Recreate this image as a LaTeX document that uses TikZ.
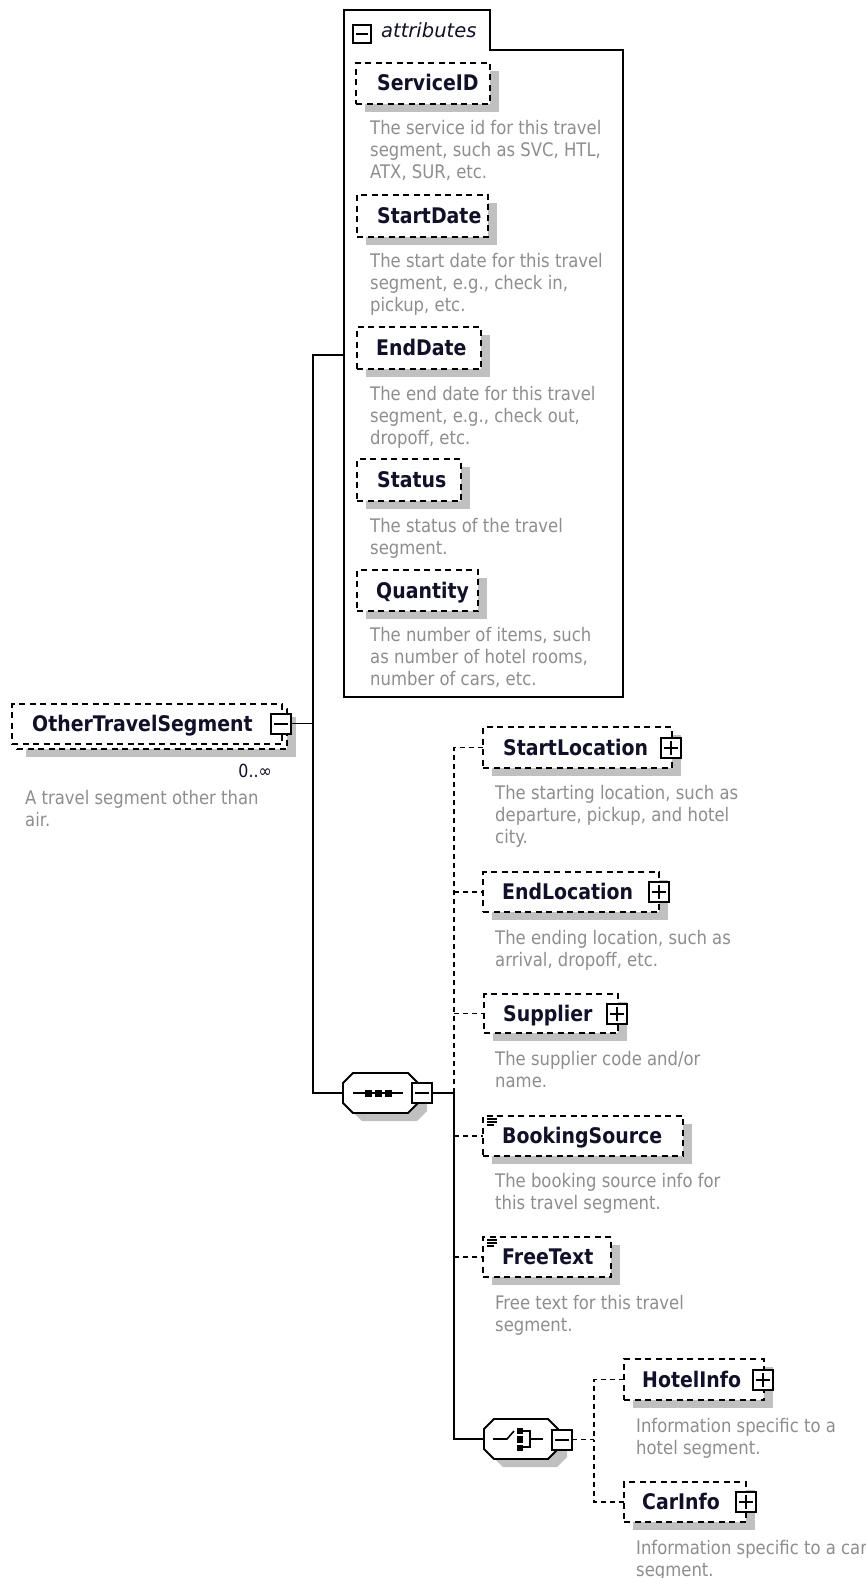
\documentclass[tikz,border=0pt]{standalone}
\usepackage{fontspec}
\setmainfont{DejaVu Sans}
\newfontfamily\nf{DejaVu Sans}[FakeStretch=0.88]
\usetikzlibrary{calc,fit}
\definecolor{shadowc}{HTML}{C0C0C0}
\definecolor{titlec}{HTML}{101028}
\definecolor{descc}{HTML}{8E8E8E}
\tikzset{
  conn/.style={line width=1.9pt},
  dconn/.style={line width=1.9pt, dash pattern=on 5pt off 4pt},
  dashbox/.style={draw, line width=1.9pt, dash pattern=on 6pt off 4.5pt, fill=white, inner sep=0pt, outer sep=0pt},
  pmbox/.style={draw, line width=2pt, fill=white, minimum size=20pt, inner sep=0pt, outer sep=0pt},
  sign/.style={line width=2pt},
  octline/.style={line width=1.9pt},
  ttl/.style={font=\nf\bfseries\fontsize{21.5}{25}\selectfont, text=titlec, inner sep=0pt, anchor=base west},
  dsc/.style={font=\nf\fontsize{18.7}{22}\selectfont, text=descc, inner sep=0pt, anchor=base west},
}
\newcommand\dlines[1]{\begin{tabular}[t]{@{}l@{}}#1\end{tabular}}
\newcommand\mybox[7]{%
  \fill[shadowc] (#2+9,#3+8) rectangle (#4+9,#5+8);
  \node[dashbox, anchor=north west, minimum width=#4-#2, minimum height=#5-#3] (#1) at (#2,#3) {};
  \node[ttl] (#1t) at (#7,{(#3+#5)/2+7.5}) {#6};
}
\newcommand\mydesc[4]{\node[dsc] (#1) at (#2,#3) {\dlines{#4}};}
\newcommand\myplus[3]{%
  \node[pmbox] (#1) at (#2,#3) {};
  \draw[sign] ($(#1.center)+(-7,0)$) -- ($(#1.center)+(7,0)$) ($(#1.center)+(0,-7)$) -- ($(#1.center)+(0,7)$);
}
\newcommand\myminus[3]{%
  \node[pmbox] (#1) at (#2,#3) {};
  \draw[sign] ($(#1.center)+(-7,0)$) -- ($(#1.center)+(7,0)$);
}
\newcommand\myocta[5]{%
  \fill[shadowc] (#2+9,#3+18) -- (#2+19,#3+8) -- (#4-1,#3+8) -- (#4+9,#3+18) -- (#4+9,#5-2) -- (#4-1,#5+8) -- (#2+19,#5+8) -- (#2+9,#5-2) -- cycle;
  \path (#2,#3) coordinate (#1nw) (#4,#5) coordinate (#1se);
  \node[inner sep=0pt, outer sep=0pt, fit=(#1nw)(#1se)] (#1) {};
  \draw[octline, fill=white] (#2,#3+10) -- (#2+10,#3) -- (#4-10,#3) -- (#4,#3+10) -- (#4,#5-10) -- (#4-10,#5) -- (#2+10,#5) -- (#2,#5-10) -- cycle;
}
\newcommand\mylines[2]{%
  \draw[line width=1.2pt] (#1,#2) -- (#1+10,#2) (#1,#2+3) -- (#1+10,#2+3) (#1,#2+6) -- (#1+7,#2+6);
}
\begin{document}
\begin{tikzpicture}[x=1pt,y=-1pt]
\fill[white] (0,0) rectangle (866,1578);
\useasboundingbox (0,0) rectangle (866,1578);

% ---------- attributes group ----------
\draw[line width=1.9pt, fill=white] (344,697) -- (344,10) -- (490,10) -- (490,50) -- (623,50) -- (623,697) -- cycle;
\coordinate (attrL) at (344,355);
\node[draw, line width=1.8pt, fill=white, minimum size=18pt, inner sep=0pt] (attrm) at (362,34) {};
\draw[sign] ($(attrm.center)+(-6,0)$) -- ($(attrm.center)+(6,0)$);
\node[font=\fontsize{19.5}{22}\selectfont\itshape, text=titlec, anchor=base west, inner sep=0pt] (attrt) at (381,38) {attributes};

\mybox{sid}{356}{63}{490}{104}{ServiceID}{377}
\mydesc{sidd}{370}{135}{The service id for this travel\\segment, such as SVC, HTL,\\ATX, SUR, etc.}
\mybox{sdt}{357}{195}{488}{237}{StartDate}{377}
\mydesc{sdtd}{370}{268}{The start date for this travel\\segment, e.g., check in,\\pickup, etc.}
\mybox{edt}{357}{327}{481}{369}{EndDate}{376}
\mydesc{edtd}{370}{400}{The end date for this travel\\segment, e.g., check out,\\dropoff, etc.}
\mybox{sts}{357}{459}{461}{501}{Status}{377}
\mydesc{stsd}{370}{532}{The status of the travel\\segment.}
\mybox{qty}{357}{570}{478}{611}{Quantity}{376}
\mydesc{qtyd}{370}{641}{The number of items, such\\as number of hotel rooms,\\number of cars, etc.}

% ---------- root element ----------
\fill[shadowc] (26,717) rectangle (296,757);
\node[dashbox, anchor=north west, minimum width=270, minimum height=40] (otsb) at (17,709) {};
\node[dashbox, anchor=north west, minimum width=270, minimum height=40] (ots) at (12,704) {};
\node[ttl] (otst) at (32,731.5) {OtherTravelSegment};
\myminus{otsm}{281}{723.5}
\node[font=\nf\fontsize{18}{20}\selectfont, text=titlec, anchor=base east, inner sep=0pt] (otsocc) at (272,777) {0..∞};
\mydesc{otsd}{25}{804}{A travel segment other than\\air.}

% ---------- sequence ----------
\myocta{seq}{343}{1073}{418}{1113}
\draw[line width=1.8pt] (353,1093) -- (403,1093);
\fill (364.5,1089.5) rectangle (371.5,1096.5);
\fill (374.5,1089.5) rectangle (381.5,1096.5);
\fill (384.5,1089.5) rectangle (391.5,1096.5);
\myminus{seqm}{422}{1093}

\coordinate (j) at (313,723.5);
\draw[conn] (otsm.east) -- (j);
\draw[conn] (attrL) -| (j) |- (seq.west);

% ---------- sequence children ----------
\mybox{sl}{483}{727}{672}{768}{StartLocation}{503}
\myplus{slp}{670.5}{748}
\mydesc{sld}{495}{799}{The starting location, such as\\departure, pickup, and hotel\\city.}
\mybox{el}{483}{872}{659}{912}{EndLocation}{502}
\myplus{elp}{658.5}{892}
\mydesc{eld}{495}{944}{The ending location, such as\\arrival, dropoff, etc.}
\mybox{sup}{484}{994}{618}{1033}{Supplier}{503}
\myplus{supp}{616.5}{1014}
\mydesc{supd}{495}{1065}{The supplier code and/or\\name.}
\mybox{bs}{483}{1116}{683}{1156}{BookingSource}{502}
\mylines{487}{1119}
\mydesc{bsd}{495}{1187}{The booking source info for\\this travel segment.}
\mybox{ft}{483}{1237}{611}{1277}{FreeText}{502}
\mylines{487}{1240}
\mydesc{ftd}{495}{1309}{Free text for this travel\\segment.}

\coordinate (k) at (454,1093);
\draw[conn] (seqm.east) -- (k);
\draw[dconn] (k) -- (k |- sl.west) -- (sl.west);
\draw[dconn] (k |- el.west) -- (el.west);
\draw[dconn] (k |- sup.west) -- (sup.west);
\draw[dconn] (k |- bs.west) -- (bs.west);
\draw[dconn] (k |- ft.west) -- (ft.west);

% ---------- choice ----------
\myocta{cho}{484}{1419}{558}{1459}
\draw[line width=1.6pt] (493,1439) -- (507,1439) -- (514,1431);
\fill (516.5,1427.5) rectangle (522.5,1434);
\fill (516.5,1436) rectangle (522.5,1442.5);
\fill (516.5,1444.5) rectangle (522.5,1451);
\draw[line width=1.6pt] (522,1431) -- (530,1431) -- (530,1447) -- (522,1447) (530,1439) -- (543,1439);
\myminus{chom}{562}{1439.5}
\draw[conn] (k) |- (cho.west);

\mybox{hi}{624}{1359}{764}{1400}{HotelInfo}{642}
\myplus{hip}{763}{1380}
\mydesc{hid}{636}{1432}{Information specific to a\\hotel segment.}
\mybox{ci}{624}{1482}{746}{1522}{CarInfo}{642}
\myplus{cip}{745.5}{1502}
\mydesc{cid}{636}{1554}{Information specific to a car\\segment.}

\coordinate (m) at (594,1439.5);
\draw[dconn] (chom.east) -- (m);
\draw[dconn] (hi.west) -| (m);
\draw[dconn] (ci.west) -| (m);
\end{tikzpicture}
\end{document}
